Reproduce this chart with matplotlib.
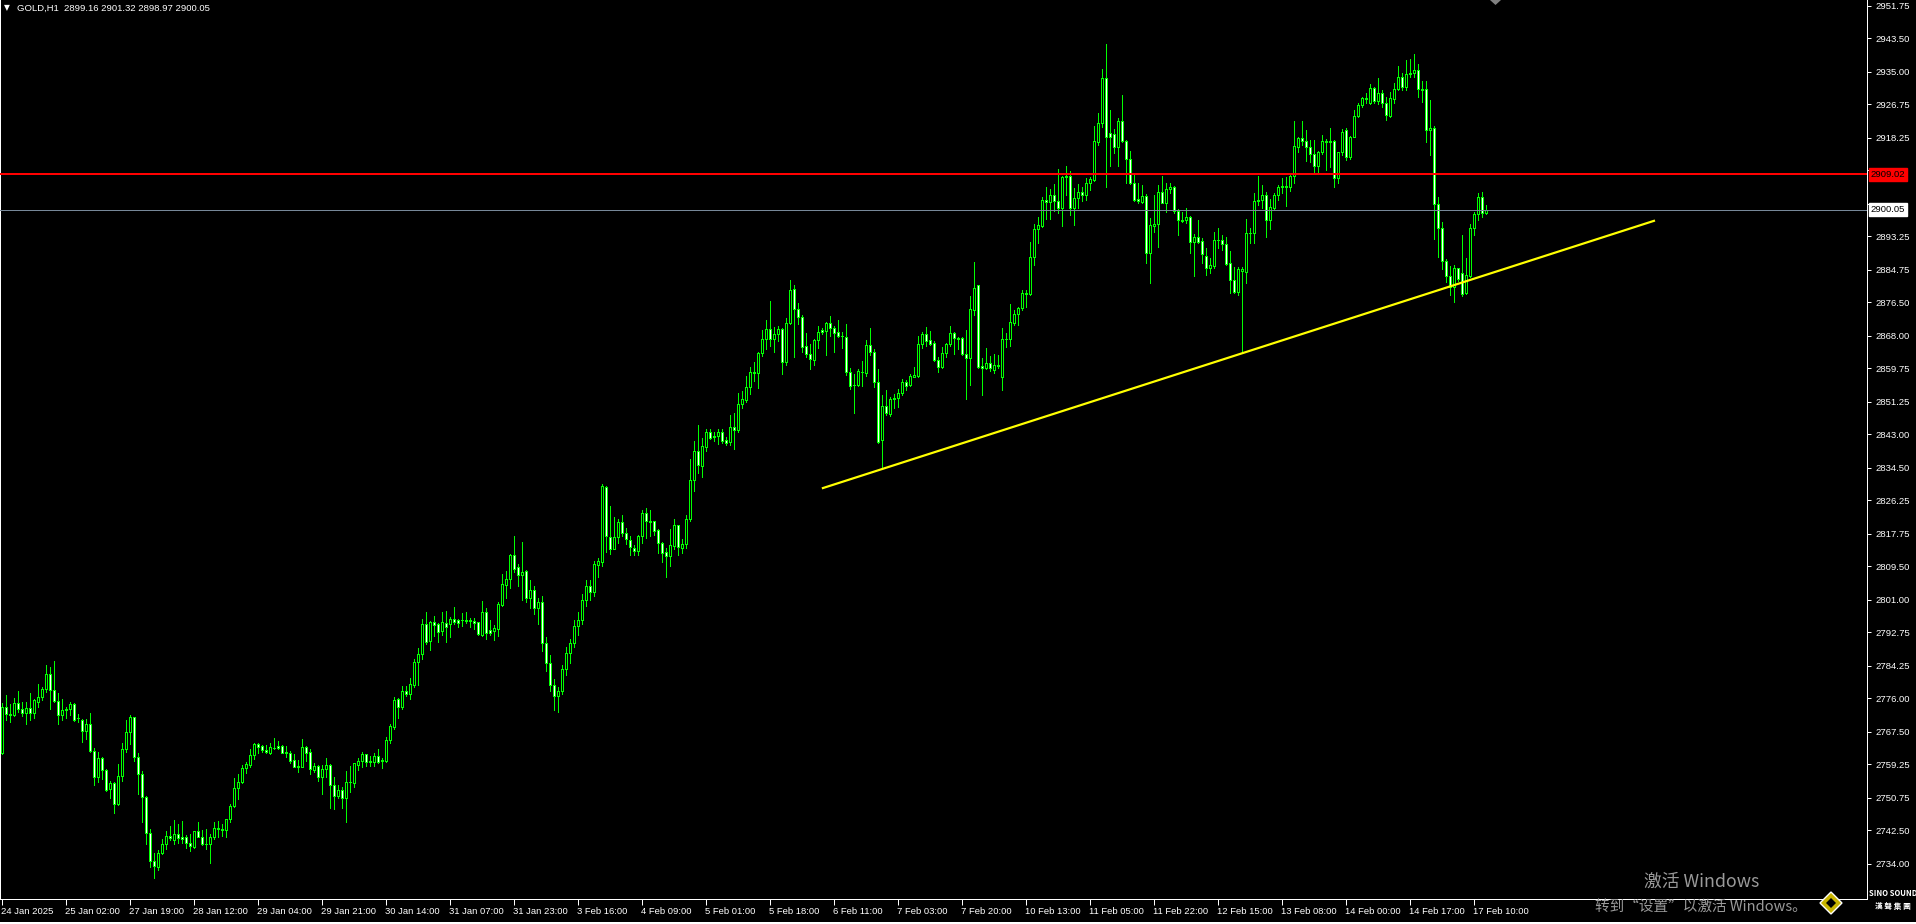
import matplotlib
matplotlib.use("Agg")
import matplotlib.pyplot as plt
import matplotlib.transforms as mtransforms
from matplotlib.patches import Rectangle, Polygon
import numpy as np

# ---------------- data ----------------
opens = [
 2762.1, 2773.7, 2772.0, 2771.7, 2774.8, 2773.4, 2772.2, 2773.5, 2772.2, 2775.2,
 2776.3, 2778.4, 2782.1, 2778.1, 2775.4, 2771.7, 2773.1, 2773.2, 2774.5, 2771.1,
 2770.5, 2767.6, 2769.4, 2762.6, 2756.1, 2760.8, 2757.8, 2752.9, 2754.5, 2749.3,
 2756.2, 2763.1, 2767.5, 2771.2, 2761.1, 2756.7, 2750.9, 2741.8, 2734.7, 2733.3,
 2736.7, 2739.0, 2741.0, 2740.0, 2741.5, 2740.7, 2740.8, 2739.2, 2738.4, 2742.3,
 2740.8, 2739.1, 2739.0, 2740.8, 2743.0, 2742.8, 2742.6, 2745.3, 2748.7, 2753.2,
 2754.9, 2758.3, 2759.1, 2761.6, 2764.4, 2763.8, 2762.9, 2762.2, 2763.3, 2763.8,
 2763.9, 2762.4, 2762.1, 2760.4, 2758.8, 2758.7, 2763.6, 2762.3, 2757.8, 2758.8,
 2756.1, 2758.2, 2759.0, 2754.1, 2751.3, 2752.7, 2750.6, 2754.8, 2754.6, 2759.2,
 2760.0, 2761.8, 2759.9, 2759.9, 2761.3, 2760.0, 2760.2, 2765.4, 2768.8, 2775.8,
 2773.9, 2777.8, 2777.0, 2779.5, 2785.2, 2787.3, 2794.9, 2790.5, 2795.3, 2794.8,
 2793.0, 2795.2, 2794.8, 2796.2, 2795.9, 2795.9, 2795.8, 2796.0, 2795.7, 2795.3,
 2792.1, 2797.9, 2793.4, 2793.2, 2793.7, 2799.8, 2804.8, 2806.2, 2812.4, 2809.3,
 2807.2, 2808.4, 2801.5, 2803.5, 2799.0, 2800.5, 2790.0, 2785.0, 2779.5, 2776.5,
 2778.0, 2783.5, 2787.5, 2790.0, 2794.5, 2796.0, 2801.0, 2804.5, 2803.0, 2809.9,
 2810.7, 2829.7, 2816.9, 2813.9, 2816.9, 2820.7, 2817.9, 2816.2, 2814.1, 2813.5,
 2817.1, 2823.0, 2820.9, 2821.0, 2818.8, 2815.4, 2813.1, 2812.2, 2814.8, 2820.0,
 2814.3, 2815.1, 2821.5, 2831.4, 2838.7, 2835.1, 2839.9, 2843.5, 2842.6, 2842.7,
 2843.7, 2841.5, 2841.2, 2844.8, 2844.0, 2850.7, 2851.8, 2855.0, 2858.8, 2858.7,
 2863.6, 2867.2, 2869.7, 2867.3, 2868.5, 2869.7, 2861.5, 2871.2, 2879.8, 2874.8,
 2872.7, 2865.5, 2863.3, 2861.9, 2867.0, 2869.5, 2869.3, 2871.2, 2870.1, 2868.9,
 2868.1, 2867.8, 2858.9, 2855.5, 2855.6, 2858.9, 2858.5, 2865.7, 2864.0, 2856.4,
 2841.6, 2850.2, 2848.2, 2852.0, 2852.2, 2853.4, 2856.4, 2855.5, 2857.7, 2857.8,
 2866.0, 2868.5, 2866.9, 2866.1, 2861.8, 2860.2, 2863.6, 2865.9, 2868.7, 2867.4,
 2867.4, 2863.3, 2862.3, 2874.6, 2880.9, 2860.4, 2859.8, 2861.1, 2859.4, 2860.5,
 2857.7, 2867.2, 2867.2, 2871.4, 2873.5, 2875.0, 2878.7, 2878.7, 2888.1, 2895.1,
 2895.9, 2902.5, 2901.9, 2903.9, 2902.3, 2900.6, 2908.3, 2908.6, 2900.6, 2902.9,
 2904.6, 2903.9, 2906.7, 2907.6, 2917.1, 2922.0, 2933.4, 2919.4, 2919.2, 2915.9,
 2922.6, 2917.5, 2912.8, 2906.7, 2902.8, 2902.1, 2903.5, 2889.0, 2896.0, 2896.3,
 2904.6, 2901.8, 2905.2, 2905.7, 2899.8, 2897.4, 2897.4, 2898.3, 2891.8, 2893.0,
 2892.0, 2888.4, 2885.2, 2885.8, 2892.4, 2892.4, 2891.3, 2886.4, 2882.2, 2879.2,
 2884.6, 2884.3, 2894.1, 2894.2, 2902.3, 2902.5, 2903.9, 2897.4, 2900.4, 2903.9,
 2905.7, 2905.9, 2905.9, 2908.6, 2916.0, 2918.2, 2917.5, 2915.9, 2914.1, 2911.2,
 2914.6, 2917.5, 2917.3, 2917.5, 2908.2, 2914.6, 2920.3, 2913.3, 2918.6, 2923.7,
 2926.5, 2928.3, 2927.0, 2931.0, 2927.7, 2929.6, 2927.0, 2923.9, 2928.1, 2930.6,
 2933.6, 2931.3, 2934.4, 2934.7, 2935.5, 2930.6, 2930.6, 2920.3, 2920.7, 2901.5,
 2895.3, 2887.0, 2883.3, 2880.5, 2885.2, 2884.1, 2878.8, 2883.3, 2895.3, 2898.9,
 2903.2, 2899.16]

highs = [
 2774.8, 2776.9, 2774.6, 2776.0, 2777.9, 2775.2, 2775.0, 2777.4, 2775.9, 2779.7,
 2779.0, 2784.5, 2783.9, 2785.4, 2777.4, 2775.8, 2773.7, 2775.1, 2774.8, 2772.0,
 2770.8, 2770.8, 2772.3, 2763.3, 2762.4, 2761.1, 2758.0, 2755.0, 2754.7, 2759.4,
 2764.6, 2770.5, 2771.8, 2771.4, 2762.1, 2757.6, 2751.1, 2742.9, 2736.7, 2737.5,
 2740.4, 2742.3, 2743.6, 2745.2, 2744.1, 2744.8, 2741.3, 2741.6, 2742.3, 2744.6,
 2742.5, 2742.9, 2741.6, 2744.6, 2744.9, 2744.1, 2745.5, 2749.2, 2755.8, 2756.7,
 2759.0, 2759.9, 2763.2, 2764.8, 2764.6, 2764.2, 2764.2, 2764.6, 2765.9, 2765.2,
 2764.2, 2763.8, 2762.7, 2761.9, 2760.4, 2765.7, 2764.0, 2763.2, 2759.5, 2759.0,
 2759.1, 2760.9, 2759.3, 2756.1, 2753.9, 2753.4, 2757.6, 2758.9, 2759.7, 2760.8,
 2762.5, 2762.0, 2761.4, 2762.1, 2763.2, 2760.8, 2766.2, 2769.4, 2776.3, 2776.0,
 2779.2, 2779.2, 2781.2, 2785.9, 2788.8, 2796.2, 2797.9, 2795.7, 2796.8, 2795.2,
 2797.9, 2798.2, 2796.7, 2799.2, 2796.2, 2797.6, 2797.9, 2796.3, 2796.3, 2795.4,
 2800.7, 2799.0, 2795.9, 2794.6, 2800.5, 2807.6, 2808.4, 2812.7, 2817.1, 2810.1,
 2815.7, 2808.6, 2806.0, 2804.5, 2801.5, 2802.0, 2791.5, 2787.0, 2781.0, 2779.0,
 2784.5, 2789.0, 2791.0, 2796.0, 2798.0, 2802.5, 2806.0, 2806.0, 2811.0, 2811.6,
 2830.4, 2829.9, 2824.9, 2822.1, 2821.5, 2822.6, 2819.3, 2817.3, 2815.0, 2817.5,
 2823.8, 2824.3, 2823.8, 2821.0, 2819.0, 2815.8, 2814.1, 2819.0, 2821.5, 2820.0,
 2816.4, 2822.6, 2836.8, 2841.3, 2845.4, 2842.1, 2844.4, 2844.5, 2843.7, 2844.5,
 2844.4, 2842.3, 2847.9, 2848.4, 2853.4, 2853.9, 2857.8, 2860.1, 2861.3, 2863.9,
 2869.5, 2872.0, 2876.9, 2870.2, 2870.5, 2870.1, 2872.6, 2882.2, 2880.9, 2876.3,
 2873.3, 2868.7, 2866.0, 2867.2, 2870.5, 2869.9, 2871.5, 2873.1, 2870.5, 2872.0,
 2869.1, 2871.0, 2859.8, 2858.3, 2859.5, 2861.6, 2867.0, 2870.0, 2864.6, 2859.5,
 2853.0, 2854.3, 2852.4, 2853.3, 2854.5, 2857.1, 2856.8, 2858.3, 2860.2, 2868.0,
 2869.0, 2870.2, 2869.2, 2866.6, 2862.7, 2865.1, 2866.3, 2870.5, 2868.9, 2867.8,
 2867.7, 2869.6, 2878.1, 2886.8, 2880.9, 2862.3, 2864.9, 2862.9, 2863.4, 2863.2,
 2870.0, 2868.8, 2876.1, 2874.6, 2875.4, 2879.7, 2879.7, 2891.8, 2896.3, 2898.1,
 2903.2, 2905.8, 2905.2, 2906.6, 2910.4, 2908.6, 2911.1, 2909.9, 2905.5, 2906.6,
 2905.7, 2908.2, 2908.3, 2921.3, 2924.5, 2935.7, 2942.1, 2925.4, 2920.5, 2923.2,
 2929.2, 2917.7, 2914.9, 2909.3, 2906.9, 2906.3, 2904.0, 2897.9, 2903.8, 2906.3,
 2908.6, 2906.9, 2906.9, 2906.1, 2900.2, 2899.5, 2900.4, 2898.4, 2894.0, 2897.4,
 2892.8, 2890.3, 2887.7, 2894.4, 2895.3, 2893.6, 2893.0, 2889.6, 2885.6, 2885.4,
 2885.4, 2897.7, 2895.3, 2904.4, 2908.6, 2906.2, 2904.5, 2902.7, 2904.2, 2906.3,
 2908.0, 2908.4, 2908.9, 2922.6, 2918.6, 2922.6, 2920.3, 2917.7, 2917.7, 2915.0,
 2919.0, 2917.9, 2920.7, 2917.7, 2914.8, 2920.5, 2920.7, 2918.8, 2925.4, 2927.2,
 2928.7, 2929.6, 2931.9, 2931.3, 2933.4, 2930.3, 2928.6, 2930.0, 2932.3, 2936.5,
 2934.8, 2938.0, 2938.3, 2939.6, 2937.0, 2932.7, 2932.7, 2927.9, 2921.3, 2903.2,
 2897.0, 2887.5, 2885.8, 2886.0, 2885.3, 2893.6, 2887.7, 2896.4, 2899.4, 2904.2,
 2904.5, 2901.32]

lows = [
 2761.9, 2770.4, 2770.1, 2771.6, 2772.6, 2771.6, 2769.6, 2770.4, 2771.0, 2773.7,
 2775.6, 2777.7, 2773.3, 2775.2, 2769.6, 2770.4, 2771.0, 2771.7, 2770.3, 2770.0,
 2765.0, 2765.7, 2762.5, 2753.9, 2754.9, 2755.6, 2752.5, 2750.6, 2747.0, 2749.0,
 2755.1, 2762.5, 2764.4, 2760.2, 2751.8, 2744.7, 2739.1, 2733.1, 2730.3, 2732.5,
 2736.5, 2737.8, 2740.0, 2739.1, 2739.4, 2739.3, 2738.1, 2737.3, 2738.1, 2740.7,
 2738.8, 2737.8, 2734.3, 2740.2, 2740.8, 2741.1, 2740.9, 2744.7, 2748.5, 2750.5,
 2754.6, 2757.0, 2758.7, 2760.7, 2762.2, 2762.5, 2762.2, 2761.9, 2763.2, 2763.1,
 2762.1, 2761.0, 2759.7, 2758.5, 2757.2, 2758.5, 2760.0, 2756.7, 2757.2, 2755.1,
 2751.8, 2756.1, 2748.3, 2748.0, 2750.6, 2748.3, 2744.5, 2752.3, 2753.6, 2757.9,
 2758.7, 2758.8, 2758.8, 2758.8, 2759.5, 2758.4, 2759.9, 2764.6, 2768.3, 2770.9,
 2773.4, 2776.5, 2775.8, 2778.8, 2779.5, 2786.1, 2789.8, 2788.4, 2791.8, 2790.4,
 2792.1, 2790.2, 2791.7, 2794.9, 2794.2, 2794.5, 2795.2, 2794.2, 2793.6, 2792.0,
 2791.8, 2791.2, 2792.1, 2790.7, 2791.9, 2799.5, 2801.5, 2803.9, 2808.2, 2804.6,
 2801.0, 2800.5, 2799.0, 2797.5, 2795.0, 2788.0, 2783.0, 2778.0, 2773.0, 2772.5,
 2777.0, 2782.0, 2785.0, 2789.0, 2792.0, 2795.0, 2799.5, 2801.0, 2802.0, 2806.9,
 2809.6, 2813.2, 2812.7, 2813.9, 2815.5, 2817.1, 2815.2, 2812.3, 2812.3, 2812.3,
 2815.5, 2816.6, 2817.1, 2817.5, 2813.0, 2810.5, 2806.9, 2809.7, 2813.9, 2812.3,
 2813.0, 2814.3, 2821.1, 2828.7, 2833.3, 2832.3, 2838.8, 2841.8, 2841.4, 2840.5,
 2840.8, 2840.2, 2840.3, 2839.2, 2843.5, 2849.6, 2851.3, 2853.2, 2856.6, 2854.7,
 2862.9, 2864.7, 2865.5, 2864.0, 2866.6, 2858.4, 2860.5, 2871.0, 2862.7, 2871.0,
 2863.8, 2862.6, 2859.6, 2860.7, 2864.9, 2868.4, 2863.2, 2868.0, 2864.0, 2867.8,
 2865.0, 2858.1, 2854.6, 2848.5, 2855.3, 2855.3, 2857.8, 2863.2, 2855.1, 2840.8,
 2834.4, 2847.9, 2847.8, 2849.6, 2850.0, 2853.0, 2854.3, 2855.3, 2857.5, 2857.5,
 2865.0, 2865.5, 2865.7, 2861.6, 2858.8, 2859.9, 2862.7, 2865.5, 2863.3, 2864.6,
 2863.2, 2852.0, 2855.6, 2873.2, 2859.8, 2853.0, 2859.5, 2859.2, 2858.5, 2859.8,
 2854.3, 2865.3, 2865.5, 2870.8, 2870.8, 2874.6, 2875.4, 2878.4, 2886.1, 2891.7,
 2895.6, 2897.8, 2897.8, 2899.8, 2899.3, 2896.0, 2903.8, 2898.7, 2896.2, 2900.6,
 2902.3, 2902.5, 2905.0, 2907.4, 2916.5, 2921.1, 2905.7, 2911.2, 2914.5, 2911.1,
 2917.1, 2906.9, 2906.5, 2902.3, 2901.8, 2901.7, 2886.6, 2881.5, 2894.5, 2890.7,
 2901.7, 2899.5, 2904.2, 2899.3, 2893.6, 2897.0, 2896.6, 2889.0, 2883.3, 2891.5,
 2886.4, 2883.5, 2883.9, 2885.3, 2890.4, 2889.8, 2886.0, 2879.0, 2879.0, 2878.4,
 2864.0, 2881.5, 2891.7, 2891.7, 2901.2, 2900.6, 2893.2, 2895.1, 2900.0, 2902.5,
 2904.2, 2901.0, 2904.8, 2906.9, 2914.8, 2916.5, 2912.5, 2912.2, 2909.1, 2909.3,
 2914.1, 2910.1, 2910.8, 2905.7, 2906.7, 2913.9, 2912.7, 2912.8, 2918.4, 2923.5,
 2926.2, 2927.2, 2926.9, 2927.0, 2926.9, 2926.2, 2922.8, 2923.5, 2927.2, 2930.3,
 2930.3, 2930.3, 2933.6, 2933.8, 2928.7, 2927.5, 2917.3, 2913.9, 2892.6, 2888.1,
 2884.9, 2881.8, 2878.4, 2876.7, 2882.0, 2878.1, 2878.6, 2882.9, 2893.6, 2897.4,
 2898.1, 2898.97]

closes = [
 2773.7, 2772.0, 2771.7, 2774.8, 2773.4, 2772.4, 2773.5, 2772.2, 2775.6, 2776.3,
 2778.4, 2782.1, 2778.1, 2775.4, 2771.7, 2773.0, 2773.2, 2774.5, 2770.6, 2771.0,
 2767.7, 2769.5, 2762.6, 2756.1, 2760.8, 2757.7, 2752.8, 2754.5, 2749.3, 2756.2,
 2763.1, 2767.5, 2771.2, 2761.1, 2756.7, 2750.9, 2741.8, 2734.7, 2733.5, 2736.7,
 2739.0, 2741.0, 2740.5, 2741.5, 2740.5, 2740.4, 2739.2, 2738.6, 2742.3, 2740.7,
 2739.0, 2739.0, 2740.8, 2743.0, 2742.9, 2742.6, 2745.3, 2748.7, 2753.2, 2754.9,
 2758.3, 2759.4, 2761.6, 2764.4, 2763.6, 2763.0, 2762.3, 2763.6, 2763.5, 2763.3,
 2762.2, 2762.1, 2760.2, 2758.7, 2758.7, 2763.6, 2762.2, 2758.0, 2758.9, 2756.1,
 2758.2, 2759.0, 2754.0, 2751.3, 2752.7, 2750.6, 2754.9, 2754.9, 2759.5, 2760.2,
 2761.9, 2759.9, 2760.0, 2761.3, 2759.9, 2760.4, 2765.4, 2768.9, 2775.6, 2773.9,
 2777.8, 2777.0, 2779.7, 2785.2, 2787.3, 2794.9, 2790.2, 2795.4, 2794.7, 2792.9,
 2795.3, 2794.0, 2796.2, 2795.3, 2795.2, 2795.8, 2795.7, 2795.6, 2795.2, 2792.4,
 2797.9, 2792.7, 2792.7, 2793.9, 2799.9, 2805.0, 2806.2, 2812.4, 2808.9, 2807.2,
 2808.2, 2801.5, 2803.5, 2799.0, 2800.5, 2790.0, 2785.0, 2779.5, 2776.5, 2778.0,
 2783.5, 2787.5, 2790.0, 2794.5, 2796.0, 2801.0, 2804.5, 2803.0, 2810.1, 2810.9,
 2829.9, 2817.1, 2813.9, 2816.9, 2820.7, 2817.9, 2816.4, 2814.4, 2813.5, 2817.2,
 2823.0, 2820.9, 2820.8, 2818.6, 2815.4, 2813.0, 2812.2, 2814.9, 2820.0, 2814.5,
 2815.2, 2821.5, 2831.4, 2838.7, 2835.3, 2840.0, 2843.5, 2842.2, 2842.4, 2843.7,
 2841.4, 2840.9, 2844.8, 2844.0, 2850.7, 2851.9, 2855.0, 2858.8, 2858.7, 2863.6,
 2867.2, 2869.7, 2867.3, 2868.5, 2869.8, 2861.5, 2871.2, 2879.7, 2874.8, 2872.7,
 2865.3, 2863.3, 2862.1, 2866.9, 2868.9, 2868.9, 2871.2, 2870.1, 2868.8, 2868.1,
 2868.0, 2858.9, 2855.4, 2855.6, 2859.0, 2858.9, 2865.7, 2864.0, 2856.4, 2841.2,
 2850.2, 2848.4, 2852.0, 2852.3, 2853.4, 2856.4, 2855.4, 2857.8, 2858.0, 2866.0,
 2868.5, 2866.8, 2866.0, 2861.8, 2860.2, 2863.6, 2866.0, 2868.7, 2867.4, 2867.3,
 2863.3, 2862.3, 2874.8, 2880.2, 2860.2, 2859.8, 2861.1, 2859.8, 2860.6, 2860.4,
 2867.2, 2867.3, 2871.5, 2873.6, 2875.0, 2878.8, 2879.0, 2888.1, 2895.1, 2896.1,
 2902.5, 2901.9, 2903.9, 2902.3, 2900.6, 2908.3, 2908.6, 2900.6, 2902.9, 2904.6,
 2903.9, 2906.7, 2907.8, 2917.5, 2922.0, 2933.4, 2918.4, 2918.4, 2915.9, 2922.6,
 2917.5, 2912.8, 2906.9, 2902.5, 2902.2, 2903.5, 2889.0, 2896.2, 2896.4, 2904.5,
 2901.8, 2905.2, 2905.7, 2899.8, 2897.4, 2897.1, 2898.3, 2891.8, 2893.0, 2891.9,
 2888.7, 2885.2, 2886.0, 2892.4, 2892.3, 2891.3, 2886.3, 2882.2, 2879.2, 2884.9,
 2885.0, 2894.1, 2894.2, 2902.3, 2902.5, 2903.9, 2897.4, 2900.8, 2903.9, 2905.9,
 2906.1, 2906.1, 2908.6, 2916.2, 2918.2, 2917.6, 2915.9, 2914.1, 2911.2, 2914.6,
 2917.5, 2917.3, 2917.5, 2908.2, 2914.6, 2919.7, 2913.3, 2918.6, 2923.7, 2926.6,
 2928.3, 2928.1, 2930.9, 2927.7, 2929.6, 2927.0, 2924.1, 2928.3, 2930.6, 2933.6,
 2931.3, 2934.4, 2934.8, 2935.5, 2930.6, 2930.3, 2920.3, 2920.7, 2901.5, 2895.3,
 2887.0, 2883.3, 2880.5, 2885.2, 2882.5, 2878.6, 2883.5, 2895.3, 2898.9, 2903.2,
 2899.2, 2900.05]

time_labels = ["24 Jan 2025", "25 Jan 02:00", "27 Jan 19:00", "28 Jan 12:00",
               "29 Jan 04:00", "29 Jan 21:00", "30 Jan 14:00", "31 Jan 07:00",
               "31 Jan 23:00", "3 Feb 16:00", "4 Feb 09:00", "5 Feb 01:00",
               "5 Feb 18:00", "6 Feb 11:00", "7 Feb 03:00", "7 Feb 20:00",
               "10 Feb 13:00", "11 Feb 05:00", "11 Feb 22:00", "12 Feb 15:00",
               "13 Feb 08:00", "14 Feb 00:00", "14 Feb 17:00", "17 Feb 10:00"]
bars_per_label = 16

price_ticks = [2951.75, 2943.50, 2935.00, 2926.75, 2918.25, 2910.00, 2901.50,
               2893.25, 2884.75, 2876.50, 2868.00, 2859.75, 2851.25, 2843.00,
               2834.50, 2826.25, 2817.75, 2809.50, 2801.00, 2792.75, 2784.25,
               2776.00, 2767.50, 2759.25, 2750.75, 2742.50, 2734.00]
# labels of these two ticks sit under the price boxes in the reference
hidden_tick_labels = [2910.00, 2901.50]

resistance_level = 2909.02
bid_level = 2900.05
trend_bars = [204.9, 413.2]
trend_prices = [2829.3, 2897.3]

symbol_header = "GOLD,H1  2899.16 2901.32 2898.97 2900.05"
watermark_1 = "激活 Windows"
watermark_2 = "转到“设置”以激活 Windows。"
logo_en = "SINO SOUND"
logo_zh = "漢 聲 集 團"

# ---------------- figure ----------------
W, H, DPI = 1916, 924, 100
PX = 72.0 / DPI
GREEN = "#00FF00"
FONT = ["Liberation Sans", "DejaVu Sans"]
FS = 6.8

plt.rcParams["font.family"] = FONT
fig = plt.figure(figsize=(W / DPI, H / DPI), dpi=DPI, facecolor="black")
plot_right, plot_bottom = 1867, 899
ax = fig.add_axes([0, (H - plot_bottom) / H, plot_right / W, plot_bottom / H])
ax.set_facecolor("black")

n = len(opens)
xs = np.arange(n)
ax.vlines(xs, lows, highs, color=GREEN, lw=1.0 * PX, zorder=2, antialiased=False)
for i in range(n):
    o, c = opens[i], closes[i]
    face = "black" if c >= o else "white"
    ax.add_patch(Rectangle((i - 0.26, min(o, c)), 0.52, abs(c - o),
                           facecolor=face, edgecolor=GREEN, lw=1.0 * PX,
                           zorder=3, antialiased=False))

ax.axhline(resistance_level, color="#FF0000", lw=2.0 * PX, zorder=4)
ax.axhline(bid_level, color="#778899", lw=1.0 * PX, zorder=4)
ax.plot(trend_bars, trend_prices, color="#FFFF00", lw=2.2 * PX, zorder=5,
        solid_capstyle="butt")

ax.set_xlim(-0.58, 466.2)
ax.set_ylim(2725.08, 2953.27)

for side in ["left", "right", "bottom"]:
    ax.spines[side].set_color("white")
    ax.spines[side].set_linewidth(1.0 * PX)
ax.spines["left"].set_linewidth(2.0 * PX)
ax.spines["top"].set_visible(False)

ax.yaxis.tick_right()
ax.set_yticks(price_ticks)
ax.set_yticklabels(["" if v in hidden_tick_labels else f"{v:.2f}" for v in price_ticks])
ax.tick_params(axis="y", colors="white", labelcolor="white", labelsize=FS,
               length=3, width=1.0 * PX, pad=3.3, direction="out")

xt = [k * bars_per_label for k in range(len(time_labels))]
ax.set_xticks(xt)
ax.set_xticklabels(time_labels, ha="left")
ax.tick_params(axis="x", colors="white", labelcolor="white", labelsize=FS,
               length=4, width=1.0 * PX, pad=1.5, direction="out")
for lbl in ax.get_xticklabels():
    lbl.set_transform(lbl.get_transform() + mtransforms.ScaledTranslation(-1.5 / DPI, 0, fig.dpi_scale_trans))

blend = mtransforms.blended_transform_factory(ax.transAxes, ax.transData)
ax.text(1.0 + 3.5 / plot_right, resistance_level, f"{resistance_level:.2f}",
        transform=blend, ha="left", va="center", color="black", fontsize=FS,
        bbox=dict(boxstyle="square,pad=0.2", fc="#FF0000", ec="#FF0000"),
        clip_on=False, zorder=20)
ax.text(1.0 + 3.5 / plot_right, bid_level, f"{bid_level:.2f}",
        transform=blend, ha="left", va="center", color="black", fontsize=FS,
        bbox=dict(boxstyle="square,pad=0.2", fc="white", ec="white"),
        clip_on=False, zorder=20)

# header
fig.text(4 / W, 1 - 8 / H, "▼", color="white", fontsize=5.5, va="center",
         ha="left", family="DejaVu Sans")
fig.text(17 / W, 1 - 8 / H, symbol_header, color="white", fontsize=FS,
         va="center", ha="left")

# chart shift marker
fig.patches.append(Polygon([[1490 / W, 1.0], [1501 / W, 1.0], [1495.5 / W, 1 - 5 / H]],
                           closed=True, transform=fig.transFigure,
                           fc="#808080", ec="none"))

# bottom window border
fig.patches.append(Rectangle((0, 0), 1.0, 2 / H, transform=fig.transFigure,
                             fc="white", ec="none"))

# watermark
cjk = ["Noto Sans CJK SC", "DejaVu Sans"]
fig.text(1644 / W, 1 - 882 / H, watermark_1, color="#9a9a9a", fontsize=12.8,
         va="center", ha="left", family=cjk, zorder=30)
fig.text(1595 / W, 1 - 907 / H, watermark_2, color="#9a9a9a", fontsize=10.5,
         va="center", ha="left", family=cjk, zorder=30)

# logo
cx, cy = 1831, 903
fig.patches.append(Polygon([[(cx - 11) / W, 1 - cy / H], [cx / W, 1 - (cy - 11) / H],
                            [(cx + 11) / W, 1 - cy / H], [cx / W, 1 - (cy + 11) / H]],
                           closed=True, transform=fig.transFigure,
                           fc="#c8b400", ec="white", lw=1.0))
fig.patches.append(Polygon([[(cx - 5) / W, 1 - cy / H], [cx / W, 1 - (cy - 5) / H],
                            [(cx + 5) / W, 1 - cy / H], [cx / W, 1 - (cy + 5) / H]],
                           closed=True, transform=fig.transFigure,
                           fc="black", ec="none"))
fig.text(1893 / W, 1 - 893 / H, logo_en, color="white", fontsize=5.5,
         weight="bold", va="center", ha="center", family=cjk, zorder=31)
fig.text(1893 / W, 1 - 907 / H, logo_zh, color="white", fontsize=5.5,
         weight="bold", va="center", ha="center", family=cjk, zorder=31)

fig.savefig("out.png", dpi=DPI, facecolor="black")
